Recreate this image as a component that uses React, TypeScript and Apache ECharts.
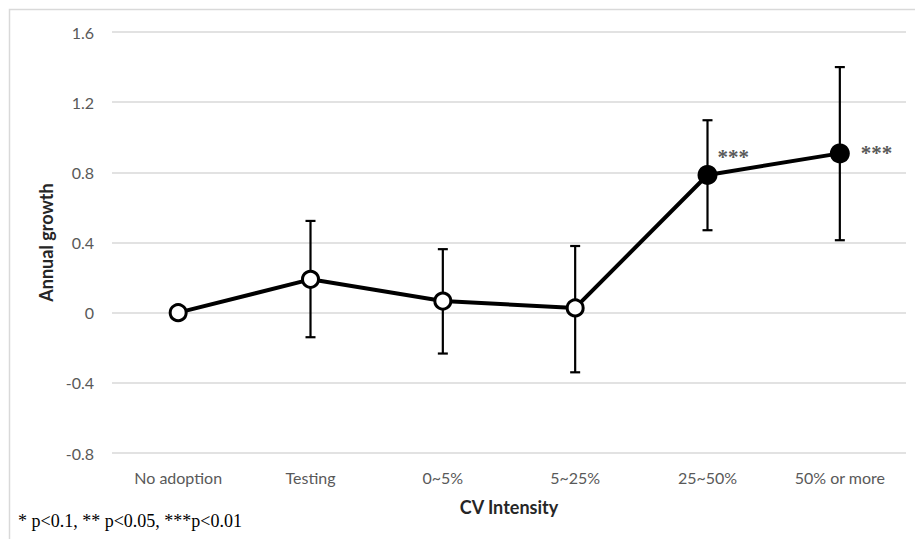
import React, { useEffect, useRef } from "react";
import * as echarts from "echarts";

const categories = ["No adoption", "Testing", "0~5%", "5~25%", "25~50%", "50% or more"];
const growth = [0, 0.19, 0.066, 0.027, 0.785, 0.908];
const lowerBound = [0, -0.14, -0.233, -0.34, 0.47, 0.413];
const upperBound = [0, 0.523, 0.362, 0.38, 1.097, 1.4];
const significance = ["", "", "", "", "***", "***"];
const yMin = -0.8;
const yMax = 1.6;
const yInterval = 0.4;
const footnote = "* p<0.1, ** p<0.05, ***p<0.01";

export default function App() {
  const ref = useRef<HTMLDivElement>(null);
  useEffect(() => {
    if (!ref.current) return;
    const chart = echarts.init(ref.current, undefined, { renderer: "svg" });
    const errData = categories
      .map((_, i) => [i, lowerBound[i], upperBound[i]])
      .filter((d, i) => upperBound[i] !== lowerBound[i]);
    const labelOffsets: Record<number, number[]> = { 4: [-5, -18], 5: [6, 0] };
    chart.setOption({
      animation: false,
      backgroundColor: "#ffffff",
      grid: { left: 112, right: 9, top: 32, bottom: 86, containLabel: false },
      xAxis: {
        type: "category",
        data: categories,
        boundaryGap: true,
        axisLine: { show: false },
        axisTick: { show: false },
        axisLabel: { color: "#595959", fontFamily: "Lato", fontSize: 16, margin: 16 },
        name: "CV Intensity",
        nameLocation: "middle",
        nameGap: 45,
        nameTextStyle: { color: "#262626", fontFamily: "Lato", fontSize: 18, fontWeight: "bold" },
      },
      yAxis: {
        type: "value",
        min: yMin,
        max: yMax,
        interval: yInterval,
        axisLine: { show: false },
        axisTick: { show: false },
        axisLabel: {
          color: "#595959",
          fontFamily: "Lato",
          fontSize: 16,
          margin: 18,
          formatter: (v: number) => {
            const r = Math.round(v * 10) / 10;
            return r === 0 ? "0" : String(r);
          },
        },
        splitLine: { lineStyle: { color: "#d9d9d9", width: 1.5 } },
        name: "Annual growth",
        nameLocation: "middle",
        nameGap: 55,
        nameRotate: 90,
        nameTextStyle: { color: "#262626", fontFamily: "Lato", fontSize: 18, fontWeight: "bold" },
      },
      graphic: [
        {
          type: "rect",
          shape: { x: 9.5, y: 9.5, width: 930, height: 560 },
          style: { fill: "none", stroke: "#d9d9d9", lineWidth: 1.5 },
          silent: true,
          z: -10,
        },
        {
          type: "text",
          left: 18,
          top: 512,
          style: { text: footnote, fill: "#000000", font: "18px 'Liberation Serif'" },
        },
      ],
      series: [
        {
          type: "custom",
          z: 1,
          data: errData,
          encode: { x: 0, y: [1, 2] },
          renderItem: (params: any, api: any) => {
            const x = api.value(0);
            const lo = api.coord([x, api.value(1)]);
            const hi = api.coord([x, api.value(2)]);
            const hw = 5;
            const style = { stroke: "#000000", lineWidth: 2.2 };
            return {
              type: "group",
              children: [
                { type: "line", shape: { x1: lo[0], y1: lo[1], x2: hi[0], y2: hi[1] }, style },
                { type: "line", shape: { x1: lo[0] - hw, y1: lo[1], x2: lo[0] + hw, y2: lo[1] }, style },
                { type: "line", shape: { x1: hi[0] - hw, y1: hi[1], x2: hi[0] + hw, y2: hi[1] }, style },
              ],
            };
          },
        },
        {
          type: "line",
          z: 5,
          symbol: "circle",
          lineStyle: { color: "#000000", width: 4 },
          data: growth.map((v, i) => {
            const filled = significance[i] !== "";
            return {
              value: v,
              symbolSize: filled ? 20 : 16,
              itemStyle: filled
                ? { color: "#000000", borderColor: "#000000", borderWidth: 0 }
                : { color: "#ffffff", borderColor: "#000000", borderWidth: 3 },
              label: filled
                ? {
                    show: true,
                    formatter: significance[i],
                    position: "right",
                    offset: labelOffsets[i] || [0, 0],
                    color: "#595959",
                    fontFamily: "Liberation Serif",
                    fontWeight: "bold",
                    fontSize: 21,
                  }
                : { show: false },
            };
          }),
        },
      ],
    });
    return () => chart.dispose();
  }, []);
  return (
    <div
      ref={ref}
      style={{ position: "fixed", left: 0, top: 0, width: 915, height: 539 }}
    />
  );
}
